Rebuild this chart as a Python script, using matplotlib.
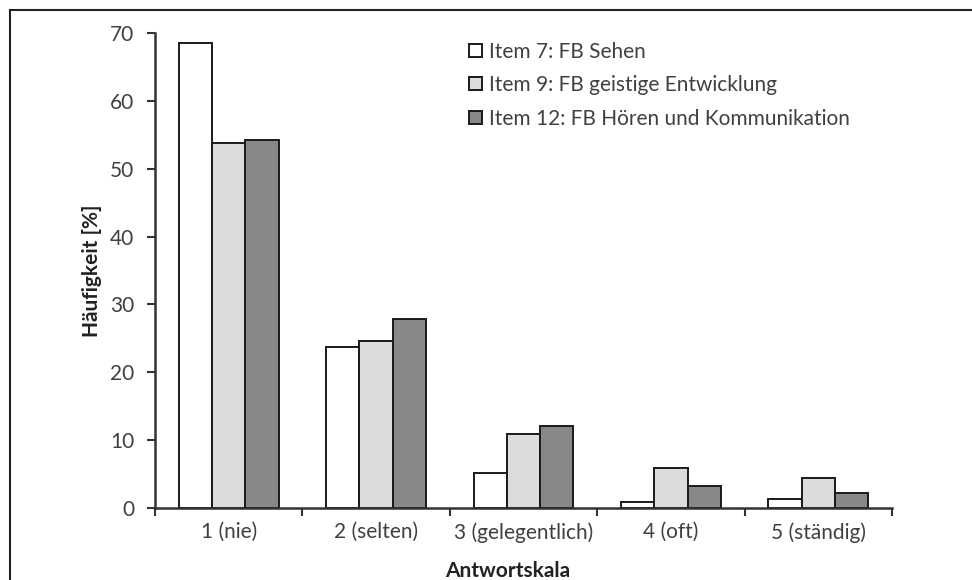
import numpy as np
import matplotlib.pyplot as plt
from matplotlib.lines import Line2D

plt.rcParams['font.family'] = ['Lato', 'DejaVu Sans']

# Daten
kategorien = ['1 (nie)', '2 (selten)', '3 (gelegentlich)', '4 (oft)', '5 (ständig)']
item7 = [68.6, 23.7, 5.1, 0.9, 1.4]
item9 = [53.8, 24.6, 10.9, 5.9, 4.4]
item12 = [54.2, 27.9, 12.1, 3.2, 2.2]
serien = ['Item 7: FB Sehen', 'Item 9: FB geistige Entwicklung',
          'Item 12: FB Hören und Kommunikation']
farben = ['#ffffff', '#dcdcdc', '#888888']
textfarbe = '#404040'
fs = 15

fig = plt.figure(figsize=(9.72, 5.8), dpi=100)
ax = fig.add_axes([0.1595, 0.1241, 0.7582, 0.8189])

x = np.arange(len(kategorien)) + 0.5
breite = 0.226
for k, (werte, name, farbe) in enumerate(zip([item7, item9, item12], serien, farben)):
    ax.bar(x + (k - 1) * breite, werte, breite, color=farbe, edgecolor='#1a1a1a',
           linewidth=1.4, label=name, zorder=2)

ax.set_xlim(0, 5)
ax.set_ylim(0, 70)
ax.set_yticks(range(0, 71, 10))
ax.set_xticks(range(0, 6))
ax.set_xticklabels([])
ax.set_xticks(x, minor=True)
ax.set_xticklabels(kategorien, minor=True)
ax.tick_params(axis='x', which='minor', length=0, pad=10, labelsize=fs, labelcolor=textfarbe)
ax.tick_params(axis='x', which='major', direction='out', length=6, width=1.5, color='#333333')
ax.tick_params(axis='y', direction='out', length=6, width=1.5, color='#333333',
               labelsize=fs, labelcolor=textfarbe, pad=9)

for s in ['top', 'right']:
    ax.spines[s].set_visible(False)
for s in ['left', 'bottom']:
    ax.spines[s].set_linewidth(1.8)
    ax.spines[s].set_color('#333333')

ax.set_ylabel('Häufigkeit [%]', fontsize=fs, fontweight='bold', color='#222222')
ax.yaxis.set_label_coords(-0.072, 0.5)
ax.set_xlabel('Antwortskala', fontsize=fs, fontweight='bold', color='#222222')
ax.xaxis.set_label_coords(0.478, -0.112)

leg = ax.legend(loc='upper left', bbox_to_anchor=(0.401, 1.021), frameon=False,
                fontsize=fs, handlelength=0.6, handleheight=0.6, handletextpad=0.35,
                labelspacing=0.64)
for t in leg.get_texts():
    t.set_color(textfarbe)

# Rahmen oben und links
fig.add_artist(Line2D([10 / 972, 1], [1 - 10 / 580, 1 - 10 / 580], color='#222222', linewidth=1.5))
fig.add_artist(Line2D([10 / 972, 10 / 972], [0, 1 - 10 / 580], color='#222222', linewidth=1.5))

fig.savefig('out.png', dpi=100, facecolor='white')
